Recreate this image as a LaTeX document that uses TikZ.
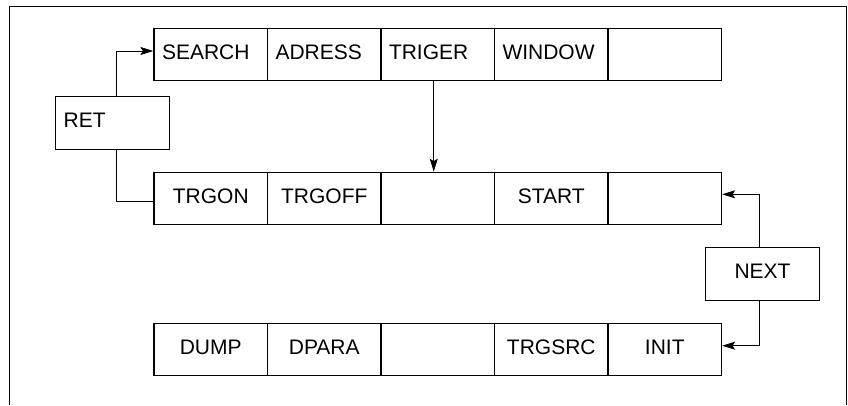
\documentclass[tikz,border=0pt]{standalone}
\usepackage{fontspec}
\setmainfont{Liberation Sans}
\usetikzlibrary{arrows.meta,positioning}
\begin{document}
\begin{tikzpicture}[x=1pt,y=-1pt,
  line width=1.2pt,
  every node/.style={font=\fontsize{21pt}{25pt}\selectfont, text height=15pt, text depth=6pt},
  cell/.style={draw, minimum width=113.5pt, minimum height=52.5pt, inner sep=0pt},
  lcell/.style={cell, text width=97.5pt, inner xsep=8pt, align=left},
  conn/.style={line width=1pt},
  arr/.style={conn, -{Stealth[length=13pt,width=8pt,inset=2.5pt]}}
]
\useasboundingbox (0,0) rectangle (848,405);
% outer frame (open at bottom)
\draw[line width=1pt] (9.5,405) -- (9.5,6) -- (846.5,6) -- (846.5,405);

% top row
\node[lcell] (s1) at (210.75,54.5) {SEARCH};
\node[lcell] (s2) at (324.25,54.5) {ADRESS};
\node[lcell] (s3) at (437.75,54.5) {TRIGER};
\node[lcell] (s4) at (551.25,54.5) {WINDOW};
\node[lcell] (s5) at (664.75,54.5) {};

% middle row
\node[cell] (m1) at (210.75,198.5) {TRGON};
\node[cell] (m2) at (324.25,198.5) {TRGOFF};
\node[cell] (m3) at (437.75,198.5) {};
\node[cell] (m4) at (551.25,198.5) {START};
\node[cell] (m5) at (664.75,198.5) {};

% bottom row
\node[cell] (b1) at (210.75,349.5) {DUMP};
\node[cell] (b2) at (324.25,349.5) {DPARA};
\node[cell] (b3) at (437.75,349.5) {};
\node[cell] (b4) at (551.25,349.5) {TRGSRC};
\node[cell] (b5) at (664.75,349.5) {INIT};

% side boxes
\node[draw, minimum width=114pt, minimum height=52.6pt, text width=98pt, inner xsep=8pt, inner ysep=0pt, align=left] (ret) at (112.7,123) {RET};
\node[draw, minimum width=113.6pt, minimum height=53.4pt, inner sep=0pt] (next) at (762.5,274) {NEXT};

% connectors
\draw[arr] ([xshift=3.6pt]ret.north) |- ([yshift=3.5pt]s1.west);
\draw[conn] ([xshift=3.6pt]ret.south) |- ([yshift=-3.2pt]m1.west);
\draw[arr] ([xshift=-4pt]s3.south) -- ([xshift=-4pt]m3.north);
\draw[arr] ([xshift=-3.5pt]next.north) |- ([yshift=4.2pt]m5.east);
\draw[arr] ([xshift=-3.5pt]next.south) |- ([yshift=3.8pt]b5.east);
\end{tikzpicture}
\end{document}
